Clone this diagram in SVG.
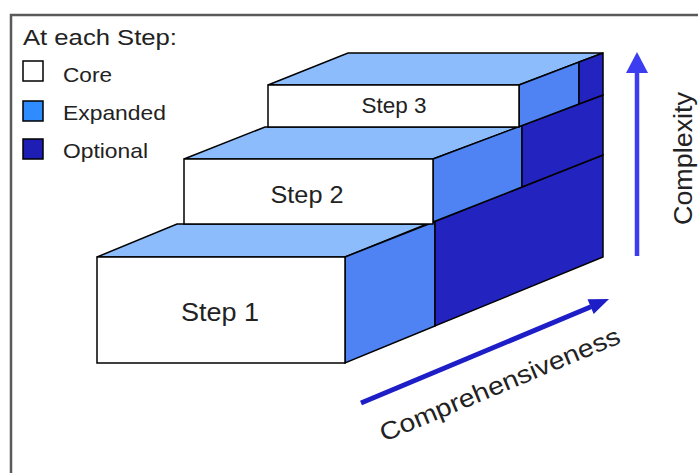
<svg xmlns="http://www.w3.org/2000/svg" width="698" height="473" viewBox="0 0 698 473">
<style>
text{font-family:"Liberation Sans",Arial,sans-serif;fill:#222}
.e{stroke:#000;stroke-width:1.5;stroke-linejoin:miter}
.core{fill:#fff}
.top{fill:#8cbcfb}
.exp{fill:#4f82f3}
.opt{fill:#2323c0}
.sw{stroke:#000;stroke-width:1.5}
</style>
<rect x="0" y="0" width="698" height="473" fill="#fff"/>
<rect x="11" y="15" width="720" height="500" fill="none" stroke="#5a5a5a" stroke-width="2.5"/>
<g id="legend">
<text x="23" y="45" font-size="22" textLength="154" lengthAdjust="spacingAndGlyphs">At each Step:</text>
<rect class="sw" x="23" y="61" width="20" height="20" fill="#fff"/>
<text x="63" y="82" font-size="21" textLength="49" lengthAdjust="spacingAndGlyphs">Core</text>
<rect class="sw" x="23" y="101" width="20" height="20" fill="#2e8cff"/>
<text x="63" y="120" font-size="21" textLength="103" lengthAdjust="spacingAndGlyphs">Expanded</text>
<rect class="sw" x="23" y="139" width="20" height="20" fill="#1e1eb4"/>
<text x="63" y="158" font-size="21" textLength="85" lengthAdjust="spacingAndGlyphs">Optional</text>
</g>
<g id="step1">
<polygon class="e top" points="97,257 177,224 427,224 345,257"/>
<polygon class="e exp" points="345,257 435,221.5 435,326 345,363"/>
<polygon class="e opt" points="435,221.5 603,155 603,257 435,326"/>
<rect class="e core" x="97" y="257" width="248" height="106"/>
<text x="220" y="321" font-size="26" text-anchor="middle" textLength="78" lengthAdjust="spacingAndGlyphs">Step 1</text>
</g>
<g id="step2">
<polygon class="e top" points="184,159 265,127 519,127 433,159"/>
<polygon class="e exp" points="433,159 522,125.5 522,187 433,222"/>
<polygon class="e opt" points="522,125.5 603,95 603,155 522,187"/>
<rect class="e core" x="184" y="159" width="249" height="65"/>
<text x="307" y="203" font-size="24" text-anchor="middle" textLength="73" lengthAdjust="spacingAndGlyphs">Step 2</text>
</g>
<g id="step3">
<polygon class="e top" points="268,85 348,53 603,53 519,85"/>
<polygon class="e exp" points="519,85 579,62 579,104 519,126.6"/>
<polygon class="e opt" points="579,62 603,53 603,95 579,104"/>
<rect class="e core" x="268" y="85" width="251" height="42"/>
<text x="394" y="113" font-size="22" text-anchor="middle" textLength="65" lengthAdjust="spacingAndGlyphs">Step 3</text>
</g>
<g id="connectors">
<line x1="637" y1="256" x2="637" y2="70" stroke="#3c3cf0" stroke-width="4.5"/>
<polygon points="637,52 626,73 648,73" fill="#3c3cf0"/>
<line x1="361" y1="403" x2="591" y2="306.7" stroke="#1e1ec8" stroke-width="5"/>
<polygon points="609,299 587.5,299.3 593.7,314.1" fill="#1e1ec8"/>
</g>
<g id="labels">
<text transform="translate(692,158.5) rotate(-90)" font-size="25" text-anchor="middle" textLength="133" lengthAdjust="spacingAndGlyphs">Complexity</text>
<text transform="translate(384,442) rotate(-22.7)" font-size="25" textLength="258" lengthAdjust="spacingAndGlyphs">Comprehensiveness</text>
</g>
</svg>
